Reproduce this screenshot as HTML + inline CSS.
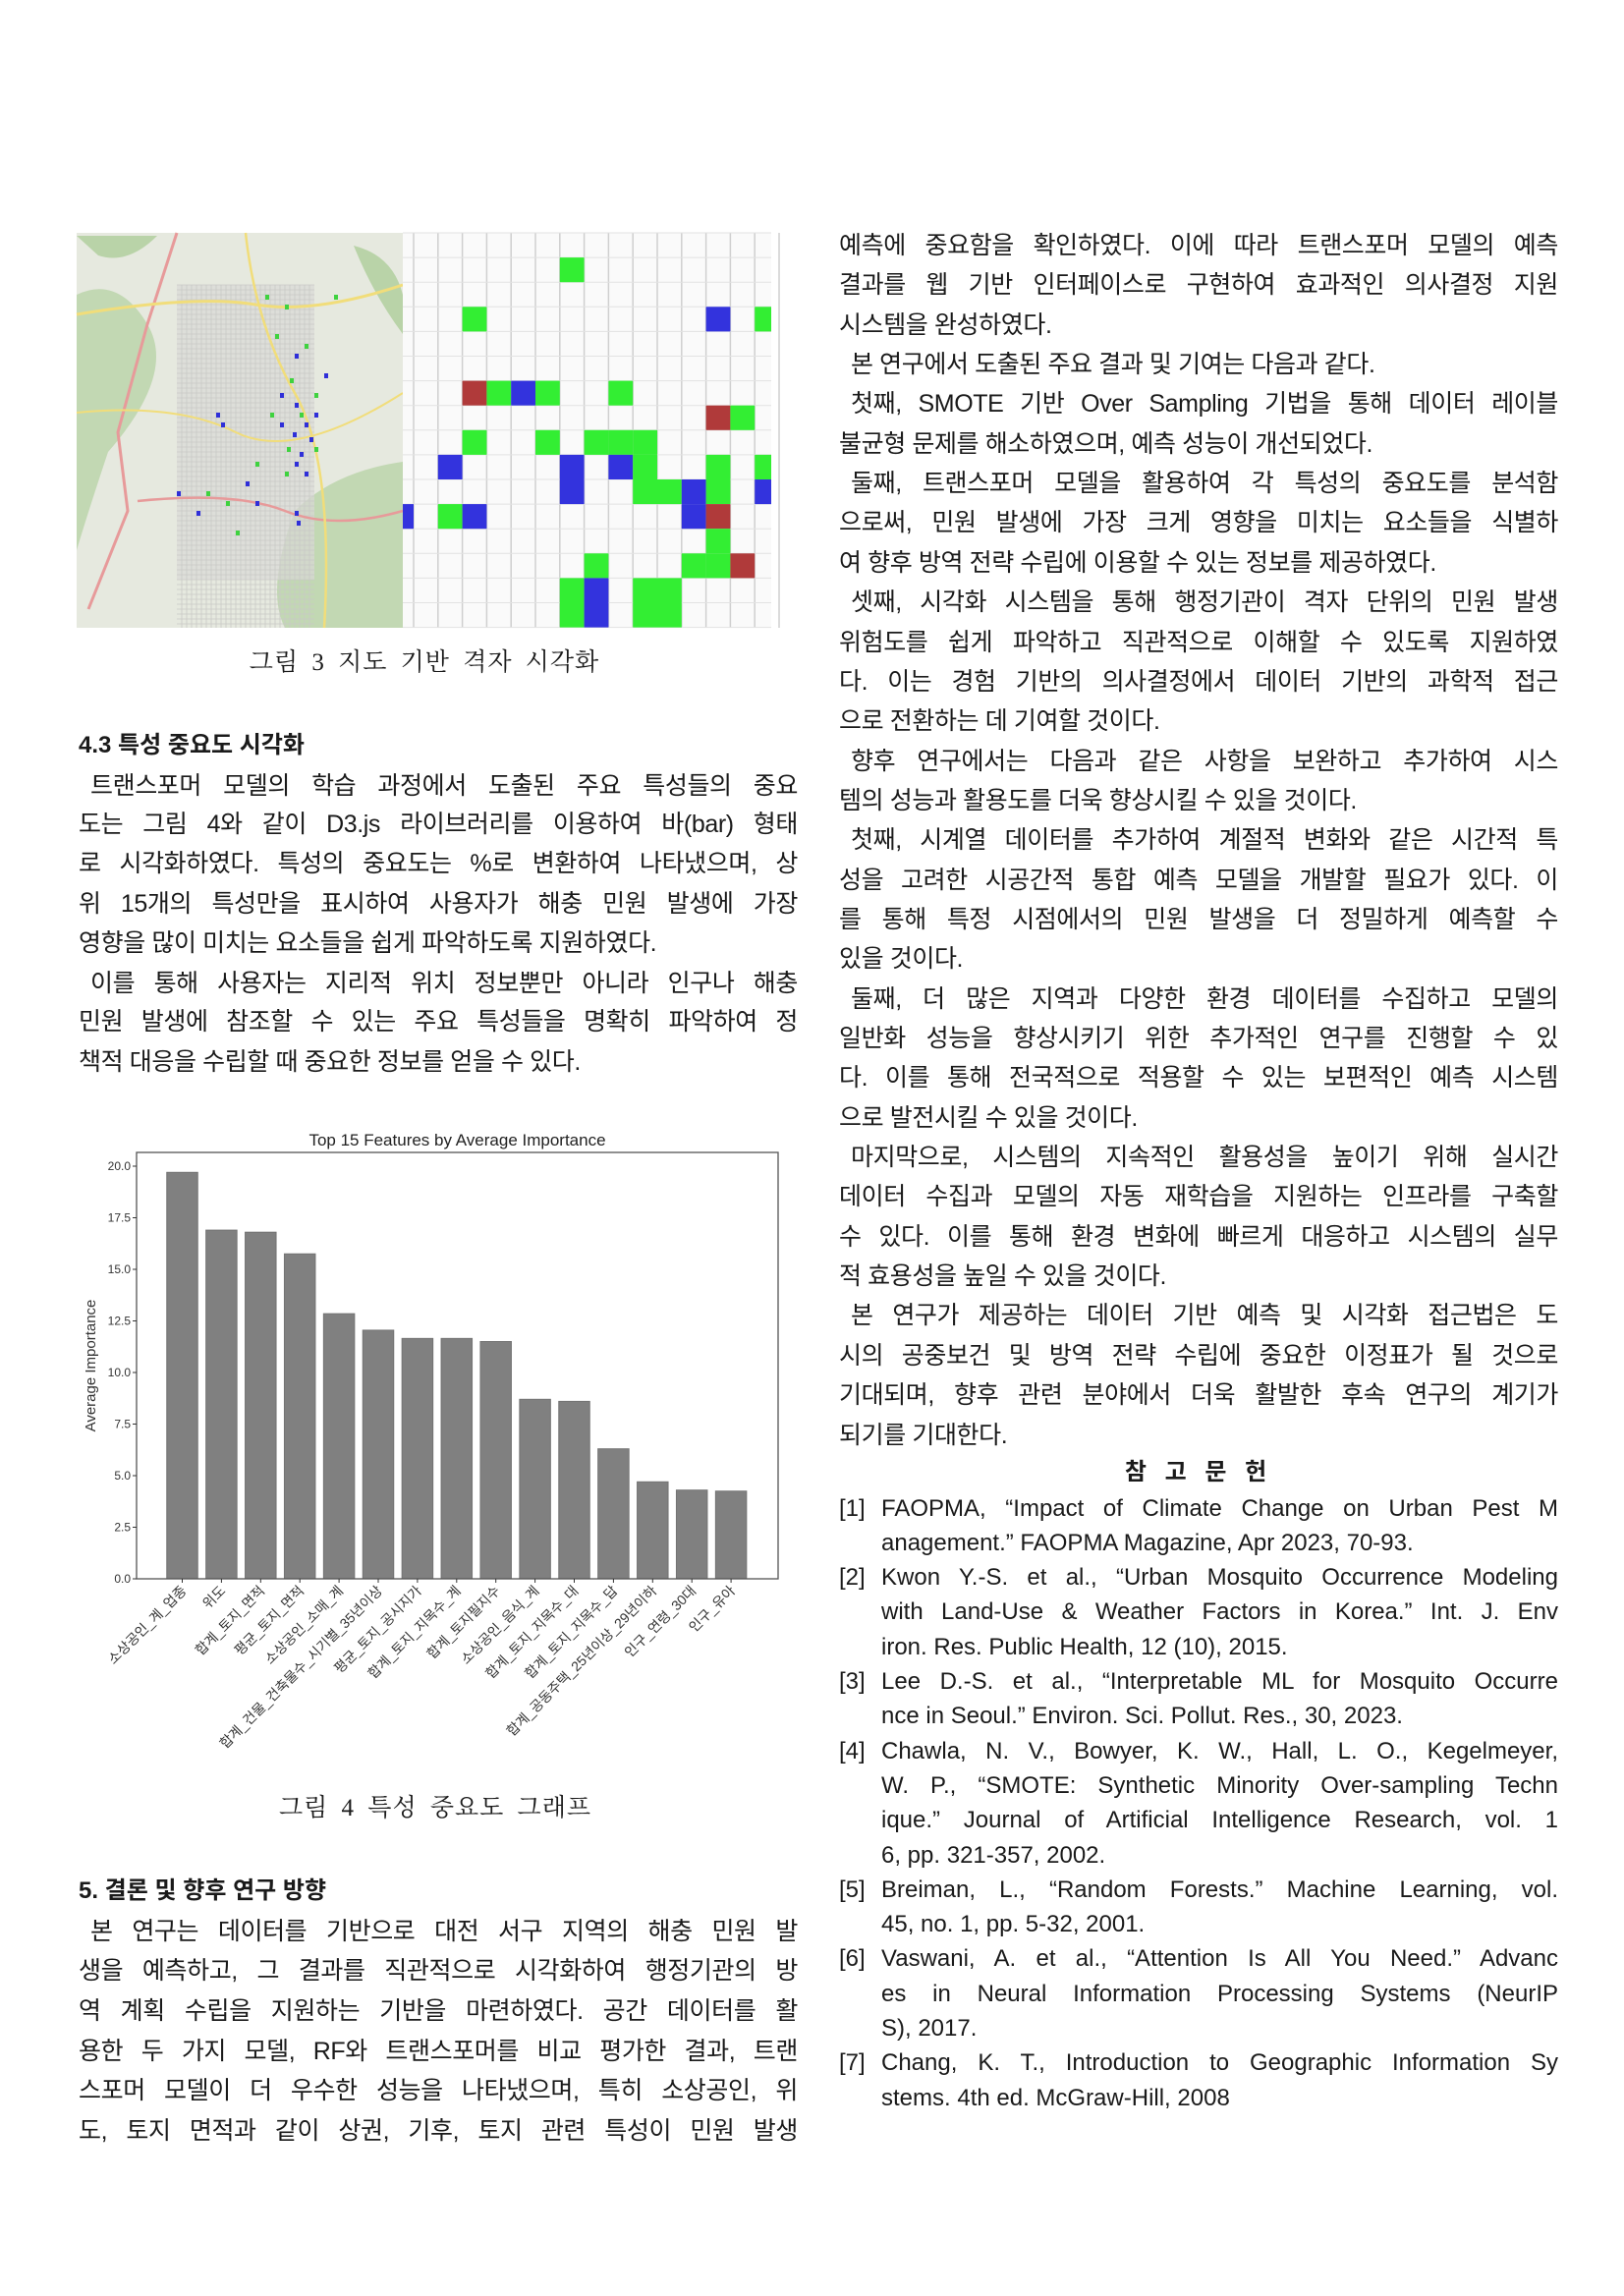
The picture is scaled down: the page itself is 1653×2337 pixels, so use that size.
<!DOCTYPE html>
<html lang="ko">
<head>
<meta charset="utf-8">
<style>
  html,body{margin:0;padding:0;background:#fff;}
  body{width:1653px;height:2337px;position:relative;overflow:hidden;
    font-family:"Liberation Sans","Noto Sans CJK KR",sans-serif;color:#1a1a1a;}
  .ln{position:absolute;width:732px;height:40px;line-height:40px;font-size:25px;letter-spacing:-0.4px;
    font-family:"Liberation Sans","Noto Sans CJK KR",sans-serif;}
  .j{text-align:justify;text-align-last:justify;}
  .ind{padding-left:12px;box-sizing:border-box;}
  .cap{position:absolute;font-family:"Liberation Serif","Noto Serif CJK SC",serif;
    font-size:25px;letter-spacing:1px;word-spacing:6px;transform:translateX(-50%);white-space:nowrap;line-height:40px;}
  .hd{position:absolute;font-weight:bold;font-size:24px;line-height:40px;white-space:nowrap;}
  .ref{position:absolute;width:689px;height:35px;line-height:35px;font-size:24px;left:897px;}
  .refn{position:absolute;left:854px;font-size:24px;line-height:35px;}
</style>
</head>
<body>

<svg style="position:absolute;left:0;top:0" width="1653" height="700">
  <g>
    <rect x="78" y="237" width="332" height="402" fill="#e6e9df"/>
    <path d="M78 300 Q120 280 150 330 T110 460 Q90 520 78 560 Z" fill="#b9d3a8" opacity="0.8"/>
    <path d="M300 520 Q340 480 410 470 L410 639 L290 639 Q270 600 300 520 Z" fill="#b9d3a8" opacity="0.8"/>
    <path d="M78 240 L160 240 Q130 270 100 260 Z" fill="#b9d3a8"/>
    <path d="M360 250 Q400 260 410 300 L410 340 Q380 300 360 250Z" fill="#b9d3a8"/>
    <rect x="180" y="290" width="140" height="300" fill="#d9d9d6" opacity="0.7"/>
    <g stroke="#c9c9c6" stroke-width="0.8" id="mapgrid"></g>
    <path d="M180 237 L150 330 L120 440 L130 520 L90 620" stroke="#e79a9a" stroke-width="3" fill="none"/>
    <path d="M78 320 Q200 300 260 310 T410 290" stroke="#f1dd7a" stroke-width="3" fill="none"/>
    <path d="M140 510 Q240 500 290 520 T410 520" stroke="#e79a9a" stroke-width="2.5" fill="none"/>
    <path d="M250 237 Q260 330 300 400 T330 639" stroke="#f1dd7a" stroke-width="2.5" fill="none"/>
    <path d="M78 420 Q180 410 240 440 T410 400" stroke="#f1dd7a" stroke-width="2" fill="none"/>
    <g id="mapdots"></g>
  </g>
  <g>
    <rect x="410" y="237" width="375" height="402" fill="#fafafa"/>
    <g id="cellgrid"></g>
  </g>
</svg>
<div class="cap" style="left:432px;top:655px;">그림 3 지도 기반 격자 시각화</div>

<div class="hd" style="left:80px;top:739px;">4.3 특성 중요도 시각화</div>
<div class="ln j ind" style="left:80px;top:780px;">트랜스포머 모델의 학습 과정에서 도출된 주요 특성들의 중요</div>
<div class="ln j" style="left:80px;top:819px;">도는 그림 4와 같이 D3.js 라이브러리를 이용하여 바(bar) 형태</div>
<div class="ln j" style="left:80px;top:859px;">로 시각화하였다. 특성의 중요도는 %로 변환하여 나타냈으며, 상</div>
<div class="ln j" style="left:80px;top:900px;">위 15개의 특성만을 표시하여 사용자가 해충 민원 발생에 가장</div>
<div class="ln" style="left:80px;top:940px;">영향을 많이 미치는 요소들을 쉽게 파악하도록 지원하였다.</div>
<div class="ln j ind" style="left:80px;top:981px;">이를 통해 사용자는 지리적 위치 정보뿐만 아니라 인구나 해충</div>
<div class="ln j" style="left:80px;top:1020px;">민원 발생에 참조할 수 있는 주요 특성들을 명확히 파악하여 정</div>
<div class="ln" style="left:80px;top:1061px;">책적 대응을 수립할 때 중요한 정보를 얻을 수 있다.</div>

<svg id="chart" style="position:absolute;left:0;top:1130px" width="830" height="680" viewBox="0 1130 830 680"></svg>
<div class="cap" style="left:443px;top:1821px;">그림 4 특성 중요도 그래프</div>

<div class="hd" style="left:80px;top:1905px;">5. 결론 및 향후 연구 방향</div>
<div class="ln j ind" style="left:80px;top:1946px;">본 연구는 데이터를 기반으로 대전 서구 지역의 해충 민원 발</div>
<div class="ln j" style="left:80px;top:1986px;">생을 예측하고, 그 결과를 직관적으로 시각화하여 행정기관의 방</div>
<div class="ln j" style="left:80px;top:2027px;">역 계획 수립을 지원하는 기반을 마련하였다. 공간 데이터를 활</div>
<div class="ln j" style="left:80px;top:2068px;">용한 두 가지 모델, RF와 트랜스포머를 비교 평가한 결과, 트랜</div>
<div class="ln j" style="left:80px;top:2108px;">스포머 모델이 더 우수한 성능을 나타냈으며, 특히 소상공인, 위</div>
<div class="ln j" style="left:80px;top:2149px;">도, 토지 면적과 같이 상권, 기후, 토지 관련 특성이 민원 발생</div>

<div id="rightcol"></div>

<div class="hd" style="left:1220px;top:1479px;transform:translateX(-50%);letter-spacing:6px;">참 고 문 헌</div>
<div id="refs"></div>

<script>
(function(){
  var ns='http://www.w3.org/2000/svg';
  var g=document.getElementById('mapgrid');
  for(var x=185;x<320;x+=5){var l=document.createElementNS(ns,'line');l.setAttribute('x1',x);l.setAttribute('x2',x);l.setAttribute('y1',290);l.setAttribute('y2',639);
    
    
    g.appendChild(l);}
  for(var y=290;y<639;y+=5){var l2=document.createElementNS(ns,'line');l2.setAttribute('x1',180);l2.setAttribute('x2',320);l2.setAttribute('y1',y);l2.setAttribute('y2',y);
    
    
    g.appendChild(l2);}
  var dots=[[290,310,'g'],[280,340,'g'],[300,360,'b'],[295,385,'g'],[285,400,'b'],[300,410,'b'],[305,420,'g'],[310,430,'b'],[298,440,'b'],[292,455,'g'],[305,460,'b'],[315,445,'b'],[320,455,'g'],[300,470,'b'],[290,480,'g'],[310,480,'b'],[220,420,'b'],[225,430,'b'],[210,500,'g'],[230,510,'g'],[180,500,'b'],[200,520,'b'],[240,540,'g'],[300,520,'b'],[302,530,'b'],[260,470,'g'],[250,490,'b'],[320,400,'g'],[330,380,'b'],[270,300,'g'],[340,300,'g'],[310,350,'g'],[275,420,'g'],[285,430,'b'],[320,420,'b'],[260,510,'b']];
  var md=document.getElementById('mapdots');
  dots.forEach(function(d){var r=document.createElementNS(ns,'rect');r.setAttribute('x',d[0]);r.setAttribute('y',d[1]);r.setAttribute('width',4);r.setAttribute('height',5);
    r.setAttribute('fill',d[2]=='g'?'#3fd23f':'#2f2fd8');
    
    
    md.appendChild(r);});
  var cg=document.getElementById('cellgrid');
  var x0=421,cw=24.8,y0=237,rh=25.1;
  for(var c=0;c<16;c++){var vl=document.createElementNS(ns,'line');vl.setAttribute('x1',x0+c*cw);vl.setAttribute('x2',x0+c*cw);vl.setAttribute('y1',237);vl.setAttribute('y2',639);vl.setAttribute('stroke','#cfcfcf');vl.setAttribute('stroke-width','1.5');
    
    
    cg.appendChild(vl);}
  for(var r2=0;r2<17;r2++){var hl=document.createElementNS(ns,'line');hl.setAttribute('x1',410);hl.setAttribute('x2',785);hl.setAttribute('y1',y0+r2*rh);hl.setAttribute('y2',y0+r2*rh);hl.setAttribute('stroke','#e2e2e2');hl.setAttribute('stroke-width','1');
    
    
    cg.appendChild(hl);}
  var G='#33ee33',B='#3333dd',R='#b03a3a';
  var cells=[[6,1,G],[2,3,G],[12,3,B],[14,3,G],[2,6,R],[3,6,G],[4,6,B],[5,6,G],[8,6,G],[12,7,R],[13,7,G],
    [2,8,G],[5,8,G],[7,8,G],[8,8,G],[9,8,G],[1,9,B],[6,9,B],[8,9,B],[9,9,G],[12,9,G],[14,9,G],
    [6,10,B],[9,10,G],[10,10,G],[11,10,B],[12,10,G],[14,10,B],[1,11,G],[2,11,B],[11,11,B],[12,11,R],
    [12,12,G],[7,13,G],[11,13,G],[12,13,G],[13,13,R],[6,14,G],[7,14,B],[9,14,G],[10,14,G],[6,15,G],[7,15,B],[9,15,G],[10,15,G]];
  cells.forEach(function(c){var r=document.createElementNS(ns,'rect');r.setAttribute('x',x0+c[0]*cw);r.setAttribute('y',y0+c[1]*rh);
    r.setAttribute('width',Math.min(cw,785-(x0+c[0]*cw)));r.setAttribute('height',rh);r.setAttribute('fill',c[2]);
    
    
    cg.appendChild(r);});
  var p=document.createElementNS(ns,'rect');p.setAttribute('x',410);p.setAttribute('y',y0+11*rh);p.setAttribute('width',11);p.setAttribute('height',rh);p.setAttribute('fill',B);
  
  
  cg.appendChild(p);
})();
</script>

<script>
var categories=['소상공인_계_업종','위도','합계_토지_면적','평균_토지_면적','소상공인_소매_계','합계_건물_건축물수_시기별_35년이상','평균_토지_공시지가','합계_토지_지목수_계','합계_토지필지수','소상공인_음식_계','합계_토지_지목수_대','합계_토지_지목수_답','합계_공동주택_25년이상_29년이하','인구_연령_30대','인구_유아'];
var importance=[19.7,16.9,16.8,15.75,12.85,12.05,11.65,11.65,11.5,8.7,8.6,6.3,4.7,4.3,4.25];
var yTicks=[0,2.5,5,7.5,10,12.5,15,17.5,20];
var yTickLabels=['0.0','2.5','5.0','7.5','10.0','12.5','15.0','17.5','20.0'];

(function(){
  var ns='http://www.w3.org/2000/svg';
  var svg=document.getElementById('chart');
  var L=139,Rr=792,T=1173,Bt=1607;
  var n=categories.length;
  var step=39.9;
  function xS(i){return 185.5+step*i;}
  function yS(v){return Bt-v*21;}
  var bw=31.5;
  function el(t,a){var e=document.createElementNS(ns,t);for(var k in a)e.setAttribute(k,a[k]);svg.appendChild(e);return e;}
  var title=el('text',{x:(L+Rr)/2,y:1166,'text-anchor':'middle','font-size':'17','fill':'#222','font-family':'Liberation Sans, sans-serif'});
  title.textContent='Top 15 Features by Average Importance';
  
  
  importance.forEach(function(v,i){
    var r=el('rect',{x:xS(i)-bw/2,y:yS(v),width:bw,height:Bt-yS(v),fill:'#808080',stroke:'#737373','stroke-width':'1'});
    
    
  });
  var frame=el('rect',{x:L,y:T,width:Rr-L,height:Bt-T,fill:'none',stroke:'#555','stroke-width':'1.3'});
  
  
  yTicks.forEach(function(v,i){
    var tk=el('line',{x1:L-4,x2:L,y1:yS(v),y2:yS(v),stroke:'#333','stroke-width':'1'});
    
    
    var t=el('text',{x:L-6,y:yS(v)+4,'text-anchor':'end','font-size':'12','fill':'#333','font-family':'Liberation Sans, sans-serif'});
    t.textContent=yTickLabels[i];
    
    
  });
  categories.forEach(function(c,i){
    var x=xS(i);
    var tk=el('line',{x1:x,x2:x,y1:Bt,y2:Bt+4,stroke:'#333','stroke-width':'1'});
    
    
    var t=el('text',{x:x+5,y:Bt+13,'text-anchor':'end','font-size':'14','fill':'#333',
      'font-family':'Liberation Sans, Noto Sans CJK KR, sans-serif',transform:'rotate(-45 '+(x+5)+' '+(Bt+13)+')'});
    t.textContent=c;
    
    
  });
  var yt=el('text',{x:97,y:(T+Bt)/2,'text-anchor':'middle','font-size':'15','fill':'#333','font-family':'Liberation Sans, sans-serif',transform:'rotate(-90 97 '+((T+Bt)/2)+')'});
  yt.textContent='Average Importance';
  
  
})();
</script>

<script>
(function(){
  var lines=[
   ['예측에 중요함을 확인하였다. 이에 따라 트랜스포머 모델의 예측','j'],
   ['결과를 웹 기반 인터페이스로 구현하여 효과적인 의사결정 지원','j'],
   ['시스템을 완성하였다.',''],
   ['본 연구에서 도출된 주요 결과 및 기여는 다음과 같다.','i'],
   ['첫째, SMOTE 기반 Over Sampling 기법을 통해 데이터 레이블','ij'],
   ['불균형 문제를 해소하였으며, 예측 성능이 개선되었다.',''],
   ['둘째, 트랜스포머 모델을 활용하여 각 특성의 중요도를 분석함','ij'],
   ['으로써, 민원 발생에 가장 크게 영향을 미치는 요소들을 식별하','j'],
   ['여 향후 방역 전략 수립에 이용할 수 있는 정보를 제공하였다.',''],
   ['셋째, 시각화 시스템을 통해 행정기관이 격자 단위의 민원 발생','ij'],
   ['위험도를 쉽게 파악하고 직관적으로 이해할 수 있도록 지원하였','j'],
   ['다. 이는 경험 기반의 의사결정에서 데이터 기반의 과학적 접근','j'],
   ['으로 전환하는 데 기여할 것이다.',''],
   ['향후 연구에서는 다음과 같은 사항을 보완하고 추가하여 시스','ij'],
   ['템의 성능과 활용도를 더욱 향상시킬 수 있을 것이다.',''],
   ['첫째, 시계열 데이터를 추가하여 계절적 변화와 같은 시간적 특','ij'],
   ['성을 고려한 시공간적 통합 예측 모델을 개발할 필요가 있다. 이','j'],
   ['를 통해 특정 시점에서의 민원 발생을 더 정밀하게 예측할 수','j'],
   ['있을 것이다.',''],
   ['둘째, 더 많은 지역과 다양한 환경 데이터를 수집하고 모델의','ij'],
   ['일반화 성능을 향상시키기 위한 추가적인 연구를 진행할 수 있','j'],
   ['다. 이를 통해 전국적으로 적용할 수 있는 보편적인 예측 시스템','j'],
   ['으로 발전시킬 수 있을 것이다.',''],
   ['마지막으로, 시스템의 지속적인 활용성을 높이기 위해 실시간','ij'],
   ['데이터 수집과 모델의 자동 재학습을 지원하는 인프라를 구축할','j'],
   ['수 있다. 이를 통해 환경 변화에 빠르게 대응하고 시스템의 실무','j'],
   ['적 효용성을 높일 수 있을 것이다.',''],
   ['본 연구가 제공하는 데이터 기반 예측 및 시각화 접근법은 도','ij'],
   ['시의 공중보건 및 방역 전략 수립에 중요한 이정표가 될 것으로','j'],
   ['기대되며, 향후 관련 분야에서 더욱 활발한 후속 연구의 계기가','j'],
   ['되기를 기대한다.','']
  ];
  var rc=document.getElementById('rightcol');
  lines.forEach(function(l,k){
    var d=document.createElement('div');
    d.className='ln'+(l[1].indexOf('j')>=0?' j':'')+(l[1].indexOf('i')>=0?' ind':'');
    d.style.left='854px';
    d.style.top=(250+k*40.35-20)+'px';
    d.textContent=l[0];
    
    
    rc.appendChild(d);
  });
  var refs=[
   ['[1]','FAOPMA, “Impact of Climate Change on Urban Pest M','j'],
   ['','anagement.” FAOPMA Magazine, Apr 2023, 70-93.',''],
   ['[2]','Kwon Y.-S. et al., “Urban Mosquito Occurrence Modeling','j'],
   ['','with Land-Use &amp; Weather Factors in Korea.” Int. J. Env','j'],
   ['','iron. Res. Public Health, 12 (10), 2015.',''],
   ['[3]','Lee D.-S. et al., “Interpretable ML for Mosquito Occurre','j'],
   ['','nce in Seoul.” Environ. Sci. Pollut. Res., 30, 2023.',''],
   ['[4]','Chawla, N. V., Bowyer, K. W., Hall, L. O., Kegelmeyer,','j'],
   ['','W. P., “SMOTE: Synthetic Minority Over-sampling Techn','j'],
   ['','ique.” Journal of Artificial Intelligence Research, vol. 1','j'],
   ['','6, pp. 321-357, 2002.',''],
   ['[5]','Breiman, L., “Random Forests.” Machine Learning, vol.','j'],
   ['','45, no. 1, pp. 5-32, 2001.',''],
   ['[6]','Vaswani, A. et al., “Attention Is All You Need.” Advanc','j'],
   ['','es in Neural Information Processing Systems (NeurIP','j'],
   ['','S), 2017.',''],
   ['[7]','Chang, K. T., Introduction to Geographic Information Sy','j'],
   ['','stems. 4th ed. McGraw-Hill, 2008','']
  ];
  var rf=document.getElementById('refs');
  refs.forEach(function(r,k){
    var top=(1535+k*35.3-17.5)+'px';
    if(r[0]){
      var n=document.createElement('div');
      n.className='refn';n.style.top=top;n.textContent=r[0];
      
      
      rf.appendChild(n);
    }
    var d=document.createElement('div');
    d.className='ref'+(r[2]?' j':'');
    d.style.top=top;
    d.innerHTML=r[1];
    
    
    rf.appendChild(d);
  });
})();
</script>
</body>
</html>
